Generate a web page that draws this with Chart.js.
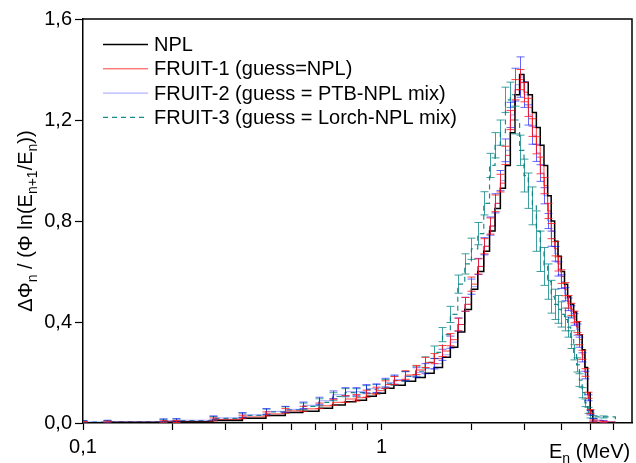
<!DOCTYPE html>
<html><head><meta charset="utf-8">
<script src="https://cdn.jsdelivr.net/npm/chart.js@4.4.0/dist/chart.umd.min.js"></script>
<style>html,body{margin:0;padding:0;background:#fff;}#wrap{width:636px;height:463px;position:relative;}</style>
</head><body><div id="wrap"><canvas id="c" width="636" height="463"></canvas></div>
<script>
// Bin left edges (MeV) + final edge
const energy = [0.1, 0.12, 0.185, 0.205, 0.272, 0.342, 0.41, 0.476, 0.545, 0.617, 0.685, 0.756, 0.82, 0.89, 0.96,
  1.03, 1.1, 1.2, 1.3, 1.4, 1.5, 1.6, 1.7, 1.8, 1.9, 2.0, 2.1, 2.2, 2.3, 2.4, 2.5, 2.6, 2.7, 2.8, 2.9,
  3.0, 3.1, 3.2, 3.3, 3.4, 3.5, 3.6, 3.7, 3.8, 3.9, 4.0, 4.1, 4.2, 4.3, 4.4, 4.5, 4.6, 4.7, 4.8, 4.9,
  5.0, 5.1, 5.5, 6.07];

const npl = [0.001, 0.002, 0.003, 0.004, 0.01, 0.019, 0.03, 0.042, 0.047, 0.058, 0.071, 0.084, 0.09, 0.106, 0.118,
  0.138, 0.15, 0.165, 0.18, 0.197, 0.22, 0.26, 0.3, 0.36, 0.45, 0.53, 0.6, 0.68, 0.76, 0.85, 0.93, 1.02, 1.15, 1.3, 1.38,
  1.35, 1.3, 1.23, 1.17, 1.1, 1.02, 0.9, 0.8, 0.72, 0.66, 0.6, 0.55, 0.5, 0.47, 0.44, 0.4, 0.35, 0.29, 0.22, 0.12,
  0.05, 0, 0, 0];

const fruit1 = [0.002, 0.003, 0.005, 0.006, 0.014, 0.024, 0.036, 0.048, 0.056, 0.068, 0.082, 0.095, 0.1, 0.116, 0.128,
  0.152, 0.168, 0.19, 0.21, 0.24, 0.255, 0.285, 0.33, 0.39, 0.47, 0.55, 0.62, 0.7, 0.78, 0.87, 0.95, 1.06, 1.2, 1.32, 1.36,
  1.31, 1.25, 1.17, 1.1, 1.02, 0.94, 0.84, 0.76, 0.69, 0.63, 0.58, 0.53, 0.48, 0.45, 0.42, 0.38, 0.33, 0.27, 0.2, 0.11,
  0.045, 0.008, 0.004, 0];
const fruit1Err = [0.004, 0.004, 0.004, 0.004, 0.006, 0.007, 0.008, 0.009, 0.01, 0.011, 0.012, 0.013, 0.013, 0.014, 0.014,
  0.015, 0.016, 0.017, 0.018, 0.02, 0.02, 0.022, 0.024, 0.025, 0.027, 0.028, 0.03, 0.03, 0.032, 0.033, 0.035, 0.036, 0.038, 0.04, 0.04,
  0.038, 0.036, 0.035, 0.034, 0.033, 0.032, 0.03, 0.03, 0.028, 0.028, 0.027, 0.026, 0.025, 0.024, 0.023, 0.022, 0.02, 0.018, 0.015, 0.012,
  0.008, 0.004, 0.003, 0];

const fruit2 = [0.004, 0.006, 0.01, 0.011, 0.02, 0.032, 0.046, 0.054, 0.07, 0.088, 0.112, 0.124, 0.124, 0.136, 0.138,
  0.16, 0.172, 0.185, 0.2, 0.215, 0.235, 0.27, 0.32, 0.39, 0.47, 0.54, 0.62, 0.7, 0.78, 0.87, 0.96, 1.08, 1.22, 1.34, 1.37,
  1.3, 1.22, 1.14, 1.07, 0.99, 0.9, 0.8, 0.73, 0.67, 0.61, 0.56, 0.51, 0.47, 0.44, 0.41, 0.37, 0.32, 0.26, 0.19, 0.1,
  0.04, 0.012, 0.006, 0];
const fruit2Err = [0.005, 0.005, 0.006, 0.006, 0.008, 0.009, 0.011, 0.012, 0.013, 0.014, 0.015, 0.016, 0.016, 0.016, 0.017,
  0.017, 0.018, 0.018, 0.019, 0.02, 0.021, 0.022, 0.024, 0.026, 0.028, 0.03, 0.032, 0.034, 0.036, 0.038, 0.04, 0.045, 0.05, 0.065, 0.08,
  0.05, 0.04, 0.036, 0.034, 0.033, 0.032, 0.03, 0.03, 0.029, 0.028, 0.027, 0.026, 0.025, 0.024, 0.023, 0.022, 0.02, 0.018, 0.015, 0.012,
  0.008, 0.005, 0.004, 0];

const fruit3 = [0.004, 0.005, 0.009, 0.01, 0.018, 0.03, 0.044, 0.052, 0.066, 0.082, 0.105, 0.12, 0.12, 0.132, 0.135,
  0.155, 0.168, 0.185, 0.205, 0.24, 0.28, 0.35, 0.43, 0.55, 0.63, 0.69, 0.75, 0.87, 1.02, 1.1, 1.15, 1.28, 1.3, 1.2, 1.08,
  0.98, 0.92, 0.86, 0.76, 0.68, 0.62, 0.56, 0.5, 0.47, 0.45, 0.43, 0.41, 0.38, 0.33, 0.28, 0.23, 0.17, 0.12, 0.08, 0.05,
  0.03, 0.024, 0.024, 0];
const fruit3Err = [0.005, 0.005, 0.006, 0.006, 0.008, 0.009, 0.011, 0.012, 0.013, 0.014, 0.015, 0.016, 0.016, 0.016, 0.017,
  0.017, 0.018, 0.019, 0.02, 0.022, 0.025, 0.028, 0.032, 0.036, 0.04, 0.042, 0.044, 0.046, 0.048, 0.05, 0.05, 0.05, 0.05, 0.055, 0.06,
  0.065, 0.07, 0.075, 0.08, 0.08, 0.075, 0.07, 0.065, 0.06, 0.055, 0.05, 0.045, 0.04, 0.035, 0.03, 0.028, 0.025, 0.02, 0.015, 0.012,
  0.01, 0.006, 0.004, 0];

const seriesLabels = ['NPL', 'FRUIT-1 (guess=NPL)', 'FRUIT-2 (guess = PTB-NPL mix)', 'FRUIT-3 (guess = Lorch-NPL mix)'];
const yTickValues = [0, 0.4, 0.8, 1.2, 1.6];
const xTickValues = [0.1, 0.2, 0.3, 0.4, 0.5, 0.6, 0.7, 0.8, 0.9, 1, 2, 3, 4, 5, 6];
const xTickLabels = {0.1: '0,1', 1: '1'};

const FONT = "'Liberation Sans', Arial, Helvetica, sans-serif";
const COLORS = {
  npl: '#000000',
  f1: 'rgba(255,0,0,0.75)', f1e: 'rgba(255,20,20,0.8)',
  f2: 'rgba(70,70,255,0.5)', f2e: 'rgba(0,0,255,0.6)',
  f3: 'rgba(0,128,128,0.9)', f3e: 'rgba(0,128,128,0.75)'
};

function pts(vals) { return energy.map((e, i) => ({x: e, y: vals[i]})); }

const errorBarPlugin = {
  id: 'errbars',
  afterDatasetsDraw(chart) {
    const {ctx, chartArea: a, scales: {x, y}} = chart;
    ctx.save();
    ctx.beginPath(); ctx.rect(a.left, a.top, a.right - a.left, a.bottom - a.top); ctx.clip();
    for (let di = chart.data.datasets.length - 1; di >= 0; di--) {
      const ds = chart.data.datasets[di];
      if (!ds.errors) continue;
      ctx.strokeStyle = ds.errColor; ctx.lineWidth = 1; ctx.setLineDash([]);
      ds.data.forEach((p, i) => {
        const e = ds.errors[i]; if (!e) return;
        const px = Math.round(x.getPixelForValue(p.x)) + 0.5;
        const pt = y.getPixelForValue(p.y + e), pb = y.getPixelForValue(Math.max(0, p.y - e));
        ctx.beginPath();
        ctx.moveTo(px, pt); ctx.lineTo(px, pb);
        ctx.moveTo(px - 4, pt); ctx.lineTo(px + 4, pt);
        ctx.moveTo(px - 4, pb); ctx.lineTo(px + 4, pb);
        ctx.stroke();
      });
    }
    ctx.restore();
  }
};

const framePlugin = {
  id: 'frame',
  afterDraw(chart) {
    const {ctx, chartArea: a} = chart;
    ctx.save(); ctx.strokeStyle = '#000'; ctx.lineWidth = 1.5;
    ctx.beginPath(); ctx.moveTo(a.left, a.top); ctx.lineTo(a.right, a.top); ctx.lineTo(a.right, a.bottom); ctx.stroke();
    ctx.restore();
  }
};

const legendPlugin = {
  id: 'customLegend',
  afterDraw(chart) {
    const ctx = chart.ctx;
    ctx.save();
    ctx.font = '20px ' + FONT; ctx.fillStyle = '#000'; ctx.textBaseline = 'middle'; ctx.textAlign = 'left';
    chart.data.datasets.forEach((ds, i) => {
      const yy = 44.5 + i * 24.3;
      ctx.strokeStyle = ds.borderColor; ctx.lineWidth = ds.borderWidth; ctx.setLineDash(ds.borderDash || []);
      ctx.beginPath(); ctx.moveTo(103, yy); ctx.lineTo(148, yy); ctx.stroke();
      ctx.setLineDash([]);
      ctx.fillText(ds.label, 154, yy + 1);
    });
    ctx.restore();
  }
};

function drawParts(ctx, parts, startX, baseY) {
  let xx = startX;
  parts.forEach(([t, sub]) => {
    ctx.font = (sub ? '14px ' : '20px ') + FONT;
    ctx.fillText(t, xx, baseY + (sub ? 5 : 0));
    xx += ctx.measureText(t).width;
  });
}
function partsWidth(ctx, parts) {
  let w = 0;
  parts.forEach(([t, sub]) => { ctx.font = (sub ? '14px ' : '20px ') + FONT; w += ctx.measureText(t).width; });
  return w;
}

const titlePlugin = {
  id: 'titles',
  afterDraw(chart) {
    const ctx = chart.ctx;
    ctx.save(); ctx.fillStyle = '#000'; ctx.textBaseline = 'alphabetic'; ctx.textAlign = 'left';
    // y title
    const yParts = [['ΔΦ', 0], ['n', 1], [' / (Φ ln(E', 0], ['n+1', 1], ['/E', 0], ['n', 1], ['))', 0]];
    const w = partsWidth(ctx, yParts);
    ctx.save(); ctx.translate(32, 221); ctx.rotate(-Math.PI / 2);
    drawParts(ctx, yParts, -w / 2, 0);
    ctx.restore();
    // x title
    const xParts = [['E', 0], ['n', 1], [' (MeV)', 0]];
    drawParts(ctx, xParts, 549, 458);
    ctx.restore();
  }
};

const ctx = document.getElementById('c').getContext('2d');
new Chart(ctx, {
  type: 'line',
  data: {
    datasets: [
      {label: seriesLabels[0], data: pts(npl), borderColor: COLORS.npl, borderWidth: 1.5, stepped: true, pointRadius: 0, fill: false},
      {label: seriesLabels[1], data: pts(fruit1), borderColor: COLORS.f1, borderWidth: 1, stepped: true, pointRadius: 0, fill: false, errors: fruit1Err, errColor: COLORS.f1e},
      {label: seriesLabels[2], data: pts(fruit2), borderColor: COLORS.f2, borderWidth: 1, stepped: true, pointRadius: 0, fill: false, errors: fruit2Err, errColor: COLORS.f2e},
      {label: seriesLabels[3], data: pts(fruit3), borderColor: COLORS.f3, borderWidth: 1.2, borderDash: [5, 4], stepped: true, pointRadius: 0, fill: false, errors: fruit3Err, errColor: COLORS.f3e}
    ]
  },
  options: {
    responsive: false, animation: false, devicePixelRatio: 1,
    layout: {padding: {left: 0, right: 4, top: 19, bottom: 0}},
    plugins: {legend: {display: false}, tooltip: {enabled: false}},
    scales: {
      x: {
        type: 'logarithmic', min: 0.1, max: 6.9,
        afterFit(s) { s.height = 40; },
        afterBuildTicks(s) { s.ticks = xTickValues.map(v => ({value: v})); },
        ticks: {autoSkip: false, maxRotation: 0, minRotation: 0, padding: 5, color: '#000',
          font: {family: FONT, size: 20},
          callback: (v) => xTickLabels[v] || ''},
        grid: {drawOnChartArea: false, tickLength: 7, color: '#000', tickColor: '#000', tickWidth: 1.2},
        border: {color: '#000', width: 1.5}
      },
      y: {
        min: 0, max: 1.6,
        afterFit(s) { s.width = 83; },
        afterBuildTicks(s) { s.ticks = yTickValues.map(v => ({value: v})); },
        ticks: {padding: 3, color: '#000', font: {family: FONT, size: 20},
          callback: (v) => Number(v).toFixed(1).replace('.', ',')},
        grid: {drawOnChartArea: false, tickLength: 8, color: '#000', tickColor: '#000', tickWidth: 1.2},
        border: {color: '#000', width: 1.5}
      }
    }
  },
  plugins: [errorBarPlugin, framePlugin, legendPlugin, titlePlugin]
});
</script></body></html>
